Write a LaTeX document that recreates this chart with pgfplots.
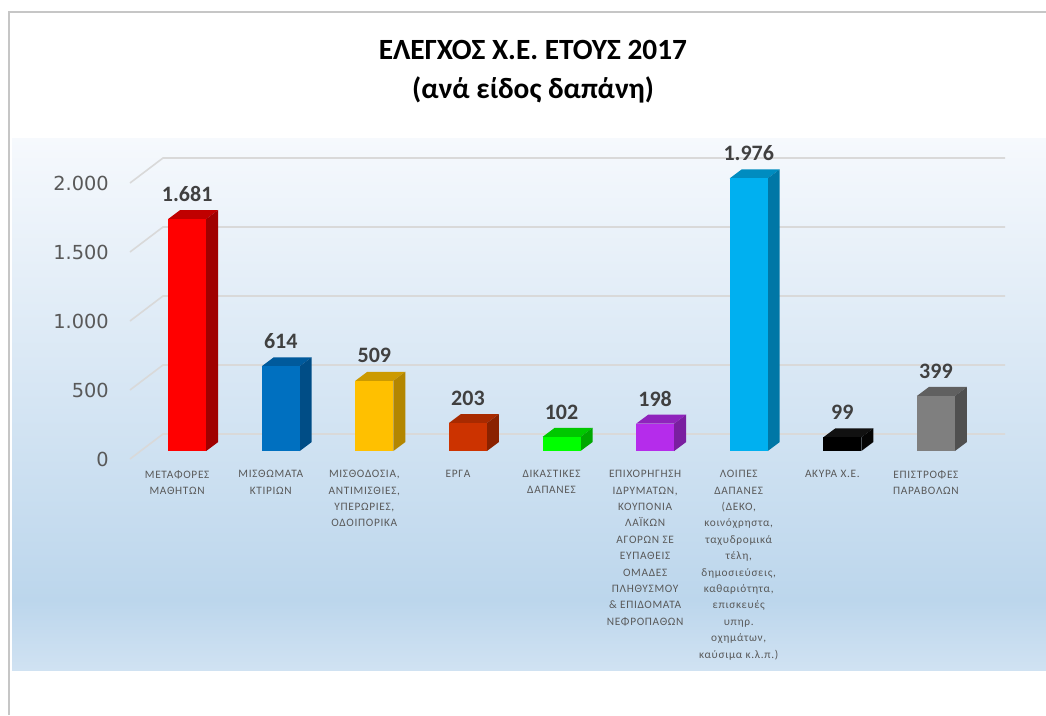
\documentclass[border=0pt]{standalone}
\usepackage{pgfplots}
\pgfplotsset{compat=1.18}
\usepackage{fontspec}
\setmainfont{Carlito}
\newfontfamily\tickfont{DejaVu Sans}
\newfontfamily\catfont[LetterSpace=6]{Carlito}
\definecolor{bordergray}{HTML}{C6C6C6}
\definecolor{gradtop}{HTML}{F6F9FD}
\definecolor{gradmid}{HTML}{BCD6EC}
\definecolor{gradbot}{HTML}{D0E2F2}
\definecolor{gridc}{HTML}{D9D9D9}
\definecolor{ticktext}{HTML}{595959}
\definecolor{cattext}{HTML}{595959}
\definecolor{valtext}{HTML}{404040}
\definecolor{redf}{HTML}{FF0000}\definecolor{redt}{HTML}{C00000}\definecolor{reds}{HTML}{A00000}
\definecolor{bluef}{HTML}{0070C0}\definecolor{bluet}{HTML}{005A9C}\definecolor{blues}{HTML}{004D86}
\definecolor{goldf}{HTML}{FFC000}\definecolor{goldt}{HTML}{CC9A00}\definecolor{golds}{HTML}{B38600}
\definecolor{orf}{HTML}{CC3300}\definecolor{ort}{HTML}{A82A00}\definecolor{ors}{HTML}{8A2200}
\definecolor{grf}{HTML}{00FF00}\definecolor{grt}{HTML}{00C800}\definecolor{grs}{HTML}{00A800}
\definecolor{puf}{HTML}{B52CEB}\definecolor{put}{HTML}{8F23BC}\definecolor{pus}{HTML}{7A1FA0}
\definecolor{cyf}{HTML}{00B0F0}\definecolor{cyt}{HTML}{008CC0}\definecolor{cys}{HTML}{0077A6}
\definecolor{blf}{HTML}{000000}\definecolor{blt}{HTML}{111111}\definecolor{bls}{HTML}{050505}
\definecolor{gyf}{HTML}{7F7F7F}\definecolor{gyt}{HTML}{606060}\definecolor{gys}{HTML}{505050}
\begin{document}
\begin{tikzpicture}[x=0.75pt,y=-0.75pt]
\path[use as bounding box] (0,0) rectangle (1046,715);
\fill[white] (0,0) rectangle (1046,715);
\shade[top color=gradtop, bottom color=gradmid] (12,138) rectangle (1046,600.5);
\shade[top color=gradmid, bottom color=gradbot] (12,600) rectangle (1046,670);
\draw[bordergray, line width=1.9pt] (9,715) -- (9,12) -- (1046,12);
% title
\node[anchor=base, font=\bfseries\fontsize{22}{26}\selectfont] at (533,59) {ΕΛΕΓΧΟΣ Χ.Ε. ΕΤΟΥΣ 2017};
\node[anchor=base, font=\bfseries\fontsize{22}{26}\selectfont] at (533,98) {(ανά είδος δαπάνη)};
% 3D grid lines
\foreach \g in {0,69,138,207,276}{
  \draw[gridc, line width=1.2pt] (130,459-\g) -- (163,434-\g) -- (1005,434-\g);
}
\begin{axis}[
  at={(98.25pt,-338.25pt)}, anchor=south west,
  scale only axis, width=631.5pt, height=207pt,
  xmin=-0.6, xmax=8.396, ymin=0, ymax=2000,
  clip=false,
  axis line style={draw=none},
  tick style={draw=none},
  scaled y ticks=false,
  ytick={0,500,1000,1500,2000},
  xtick={0,1,2,3,4,5,6,7,8},
  xticklabels={
    {ΜΕΤΑΦΟΡΕΣ\\ΜΑΘΗΤΩΝ},
    {ΜΙΣΘΩΜΑΤΑ\\ΚΤΙΡΙΩΝ},
    {ΜΙΣΘΟΔΟΣΙΑ,\\ΑΝΤΙΜΙΣΘΙΕΣ,\\ΥΠΕΡΩΡΙΕΣ,\\ΟΔΟΙΠΟΡΙΚΑ},
    {ΕΡΓΑ},
    {ΔΙΚΑΣΤΙΚΕΣ\\ΔΑΠΑΝΕΣ},
    {ΕΠΙΧΟΡΗΓΗΣΗ\\ΙΔΡΥΜΑΤΩΝ,\\ΚΟΥΠΟΝΙΑ\\ΛΑΪΚΩΝ\\ΑΓΟΡΩΝ ΣΕ\\ΕΥΠΑΘΕΙΣ\\ΟΜΑΔΕΣ\\ΠΛΗΘΥΣΜΟΥ\\\& ΕΠΙΔΟΜΑΤΑ\\ΝΕΦΡΟΠΑΘΩΝ},
    {ΛΟΙΠΕΣ\\ΔΑΠΑΝΕΣ\\(ΔΕΚΟ,\\κοινόχρηστα,\\ταχυδρομικά\\τέλη,\\δημοσιεύσεις,\\καθαριότητα,\\επισκευές\\υπηρ.\\οχημάτων,\\καύσιμα κ.λ.π.)},
    {ΑΚΥΡΑ Χ.Ε.},
    {ΕΠΙΣΤΡΟΦΕΣ\\ΠΑΡΑΒΟΛΩΝ}},
  /pgf/number format/assume math mode=true,
  /pgf/number format/1000 sep={.},
  yticklabel style={font=\tickfont\fontsize{14.5}{17}\selectfont, text=ticktext, anchor=east, inner sep=0pt, xshift=-16.5pt, yshift=-6pt},
  xticklabel style={font=\catfont\fontsize{8.5}{12.3}\selectfont, text=cattext, align=center, anchor=north, inner sep=0pt, xshift=-7.5pt, yshift=-14.25pt},
  every node near coord/.append style={anchor=center, yshift=18.75pt, font=\bfseries\fontsize{16.5}{19}\selectfont, text=valtext},
]
% bar 0
\addplot[fill=redt, draw=none] coordinates {(-0.203,1681) (-0.075,1746) (0.331,1746) (0.203,1681)} -- cycle;
\addplot[fill=reds, draw=none] coordinates {(0.203,0) (0.331,65) (0.331,1746) (0.203,1681)} -- cycle;
\addplot[ybar, bar width=0.406, bar shift=0pt, fill=redf, draw=none, nodes near coords] coordinates {(0,1681)};
% bar 1
\addplot[fill=bluet, draw=none] coordinates {(0.797,614) (0.925,679) (1.331,679) (1.203,614)} -- cycle;
\addplot[fill=blues, draw=none] coordinates {(1.203,0) (1.331,65) (1.331,679) (1.203,614)} -- cycle;
\addplot[ybar, bar width=0.406, bar shift=0pt, fill=bluef, draw=none, nodes near coords] coordinates {(1,614)};
% bar 2
\addplot[fill=goldt, draw=none] coordinates {(1.797,509) (1.925,574) (2.331,574) (2.203,509)} -- cycle;
\addplot[fill=golds, draw=none] coordinates {(2.203,0) (2.331,65) (2.331,574) (2.203,509)} -- cycle;
\addplot[ybar, bar width=0.406, bar shift=0pt, fill=goldf, draw=none, nodes near coords] coordinates {(2,509)};
% bar 3
\addplot[fill=ort, draw=none] coordinates {(2.797,203) (2.925,268) (3.331,268) (3.203,203)} -- cycle;
\addplot[fill=ors, draw=none] coordinates {(3.203,0) (3.331,65) (3.331,268) (3.203,203)} -- cycle;
\addplot[ybar, bar width=0.406, bar shift=0pt, fill=orf, draw=none, nodes near coords] coordinates {(3,203)};
% bar 4
\addplot[fill=grt, draw=none] coordinates {(3.797,102) (3.925,167) (4.331,167) (4.203,102)} -- cycle;
\addplot[fill=grs, draw=none] coordinates {(4.203,0) (4.331,65) (4.331,167) (4.203,102)} -- cycle;
\addplot[ybar, bar width=0.406, bar shift=0pt, fill=grf, draw=none, nodes near coords] coordinates {(4,102)};
% bar 5
\addplot[fill=put, draw=none] coordinates {(4.797,198) (4.925,263) (5.331,263) (5.203,198)} -- cycle;
\addplot[fill=pus, draw=none] coordinates {(5.203,0) (5.331,65) (5.331,263) (5.203,198)} -- cycle;
\addplot[ybar, bar width=0.406, bar shift=0pt, fill=puf, draw=none, nodes near coords] coordinates {(5,198)};
% bar 6
\addplot[fill=cyt, draw=none] coordinates {(5.797,1976) (5.925,2041) (6.331,2041) (6.203,1976)} -- cycle;
\addplot[fill=cys, draw=none] coordinates {(6.203,0) (6.331,65) (6.331,2041) (6.203,1976)} -- cycle;
\addplot[ybar, bar width=0.406, bar shift=0pt, fill=cyf, draw=none, nodes near coords] coordinates {(6,1976)};
% bar 7
\addplot[fill=blt, draw=none] coordinates {(6.797,99) (6.925,164) (7.331,164) (7.203,99)} -- cycle;
\addplot[fill=bls, draw=none] coordinates {(7.203,0) (7.331,65) (7.331,164) (7.203,99)} -- cycle;
\addplot[ybar, bar width=0.406, bar shift=0pt, fill=blf, draw=none, nodes near coords] coordinates {(7,99)};
% bar 8
\addplot[fill=gyt, draw=none] coordinates {(7.797,399) (7.925,464) (8.331,464) (8.203,399)} -- cycle;
\addplot[fill=gys, draw=none] coordinates {(8.203,0) (8.331,65) (8.331,464) (8.203,399)} -- cycle;
\addplot[ybar, bar width=0.406, bar shift=0pt, fill=gyf, draw=none, nodes near coords] coordinates {(8,399)};
\end{axis}
\end{tikzpicture}
\end{document}
